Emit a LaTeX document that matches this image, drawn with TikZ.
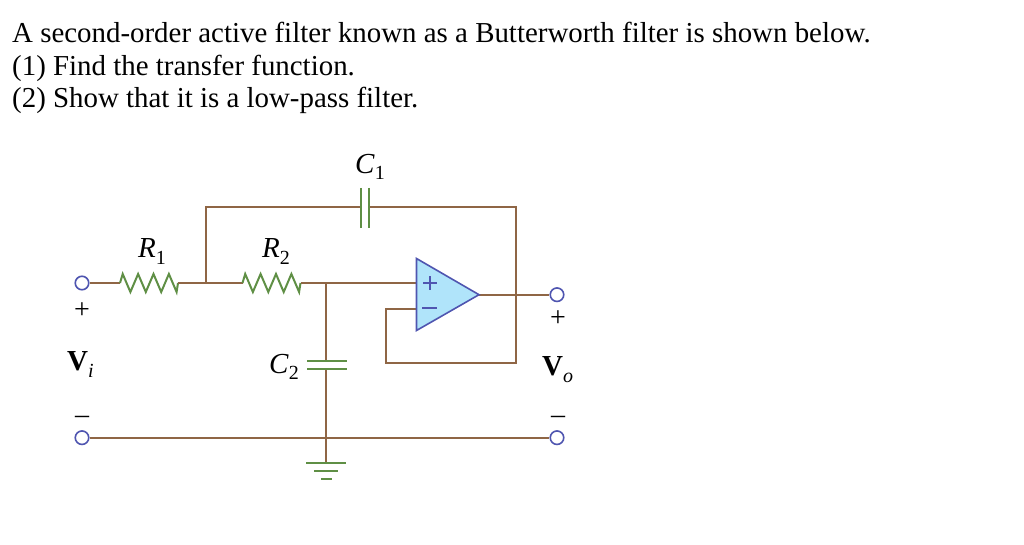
\documentclass[tikz,border=0pt]{standalone}
\usepackage{fontspec}
\setmainfont{Liberation Serif}
\definecolor{wirebrown}{HTML}{8F6645}
\definecolor{partgreen}{HTML}{5F8F45}
\definecolor{ampblue}{HTML}{4F55B0}
\definecolor{ampfill}{HTML}{B0E4FA}
\newcommand{\partlabel}[3]{#1\raisebox{#3}{\fontsize{20}{20}\selectfont #2}}
\newcommand{\resistor}[2]{\draw[part] (#1) -- ++(2.7,-9) -- ++(7.7,18) -- ++(7.7,-18) -- ++(7.7,18) -- ++(7.7,-18) -- ++(7.7,18) -- ++(7.7,-18) -- ++(7.7,18) -- (#2);}
\tikzset{
  wire/.style={draw=wirebrown, line width=2pt},
  part/.style={draw=partgreen, line width=2pt},
  terminal/.style={circle, draw=ampblue, fill=white, line width=1.6pt, minimum size=13.5pt, inner sep=0pt},
  question/.style={anchor=base west, inner sep=0pt, font=\fontsize{28.9}{28.9}\selectfont},
  lab/.style={anchor=base west, inner sep=0pt, font=\fontsize{29}{29}\selectfont},
  sign/.style={anchor=base, inner sep=0pt, font=\fontsize{28}{28}\selectfont}
}
\begin{document}
\begin{tikzpicture}[x=1pt,y=-1pt]
\useasboundingbox (0,0) rectangle (1024,545);
\node[question] (q1) at (12,43) {A second-order active filter known as a Butterworth filter is shown below.};
\node[question] (q2) at (12,76) {(1) Find the transfer function.};
\node[question] (q3) at (12,108) {(2) Show that it is a low-pass filter.};

\coordinate (r1a) at (120,283);
\coordinate (r1b) at (178,283);
\coordinate (r2a) at (242.5,283);
\coordinate (r2b) at (300.5,283);
\coordinate (jtop) at (205.7,283);
\coordinate (tl) at (205.7,207.5);
\coordinate (tr) at (515.7,207.5);
\coordinate (c1a) at (361,207.5);
\coordinate (c1b) at (369,207.5);
\coordinate (jc) at (325.7,283);
\coordinate (c2a) at (325.7,361);
\coordinate (c2b) at (325.7,369);
\coordinate (gnd) at (325.7,462.7);
\coordinate (ampp) at (416.5,283);
\coordinate (ampm) at (416.5,309);
\coordinate (ampo) at (479,294.7);
\coordinate (fb1) at (386,309);
\coordinate (fb2) at (386,362.7);
\coordinate (fb3) at (515.7,362.7);

\node[terminal] (vi) at (82,283){};
\node[terminal] (gi) at (82,437.7){};
\node[terminal] (vo) at (557,294.7){};
\node[terminal] (go) at (557,437.7){};

\draw[wire] (vi) -- (r1a);
\resistor{r1a}{r1b}
\draw[wire] (r1b) -- (r2a);
\resistor{r2a}{r2b}
\draw[wire] (r2b) -- (ampp);
\draw[wire] (jtop) -- (tl) -- (c1a);
\draw[wire] (c1b) -- (tr) -- (fb3) -- (fb2) -- (fb1) -- (ampm);
\draw[wire] (jc) -- (c2a);
\draw[wire] (c2b) -- (gnd);
\draw[wire] (gi) -- (go);
\draw[wire] (ampo) -- (vo);

\draw[part] (361,188) -- (361,228);
\draw[part] (369,188) -- (369,228);
\draw[part] (307,361) -- (347,361);
\draw[part] (307,369) -- (347,369);
\draw[part] (306,462.7) -- (346,462.7);
\draw[part] (314,470.7) -- (338,470.7);
\draw[part] (321,478.7) -- (332,478.7);

\draw[draw=ampblue, fill=ampfill, line width=1.6pt, line join=miter] (416.5,258.5) -- (416.5,330.5) -- (ampo) -- cycle;
\draw[draw=ampblue, line width=1.6pt] (423,283) -- (437,283) (430,276) -- (430,290);
\draw[draw=ampblue, line width=1.6pt] (422,308) -- (437,308);

\node[lab] (r1) at (138,257) {\partlabel{\textit{R}}{1}{-7pt}};
\node[lab] (r2) at (262,257) {\partlabel{\textit{R}}{2}{-7pt}};
\node[lab] (c1) at (355,174) {\partlabel{\textit{C}}{1}{-6pt}};
\node[lab] (c2) at (269,373) {\partlabel{\textit{C}}{2}{-6pt}};
\node[lab] (vilab) at (67,370) {\partlabel{\textbf{V}}{\textit{i}}{-7pt}};
\node[lab] (volab) at (542,375) {\partlabel{\textbf{V}}{\textit{o}}{-7pt}};
\node[sign] (pi) at (82,318) {+};
\node[sign] (mi) at (82,423) {--};
\node[sign] (po) at (558,326) {+};
\node[sign] (mo) at (558,423) {--};
\end{tikzpicture}
\end{document}
